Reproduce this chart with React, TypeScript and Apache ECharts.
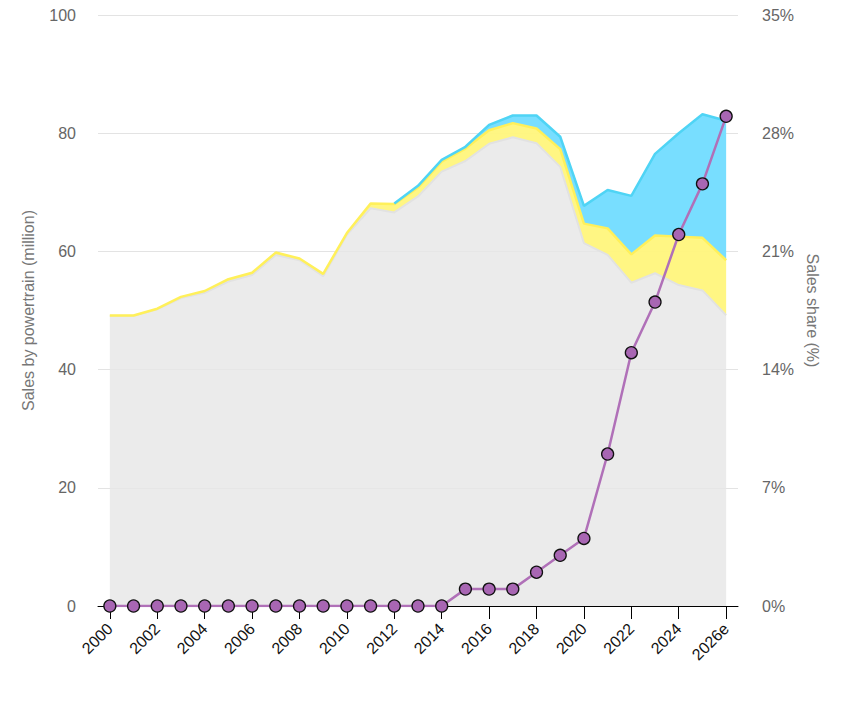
import React, { useEffect, useRef } from "react";
import * as echarts from "echarts";

const years = [
  "2000", "2001", "2002", "2003", "2004", "2005", "2006", "2007", "2008", "2009",
  "2010", "2011", "2012", "2013", "2014", "2015", "2016", "2017", "2018", "2019",
  "2020", "2021", "2022", "2023", "2024", "2025", "2026e",
];

// Sales by powertrain (million)
const iceSales = [
  49.1, 49.1, 50.2, 52.1, 53.0, 54.9, 56.0, 59.4, 58.5, 55.8,
  62.8, 67.3, 66.6, 69.3, 73.5, 75.3, 78.2, 79.3, 78.3, 74.3,
  61.4, 59.4, 54.7, 56.3, 54.3, 53.4, 49.2,
];
const hybridSales = [
  0.05, 0.05, 0.1, 0.2, 0.3, 0.4, 0.4, 0.4, 0.3, 0.4,
  0.3, 0.8, 1.4, 1.5, 1.7, 2.1, 2.3, 2.4, 2.5, 3.0,
  3.3, 4.5, 4.8, 6.4, 8.2, 8.9, 9.3,
];
// "-" = no EV sales recorded yet
const evSales: (number | string)[] = [
  "-", "-", "-", "-", "-", "-", "-", "-", "-", "-",
  "-", "-", 0.1, 0.3, 0.3, 0.3, 0.9, 1.3, 2.2, 2.1,
  3.0, 6.5, 9.9, 13.8, 17.5, 20.9, 23.6,
];
// EV sales share (%)
const evShare = [
  0, 0, 0, 0, 0, 0, 0, 0, 0, 0,
  0, 0, 0, 0, 0, 1, 1, 1, 2, 3,
  4, 9, 15, 18, 22, 25, 29,
];

const leftTicks = { min: 0, max: 100, interval: 20 };
const rightTicks = { min: 0, max: 35, interval: 7 };

const FONT = "Liberation Sans, Arial, Helvetica, sans-serif";

export default function App() {
  const ref = useRef<HTMLDivElement>(null);

  useEffect(() => {
    if (!ref.current) return;
    const chart = echarts.init(ref.current, undefined, { renderer: "svg" });
    chart.setOption({
      animation: false,
      textStyle: { fontFamily: FONT },
      grid: { left: 98, right: 112, top: 15, bottom: 102, containLabel: false },
      xAxis: {
        type: "category",
        data: years,
        boundaryGap: true,
        axisLine: { show: true, lineStyle: { color: "#000", width: 1 } },
        axisTick: {
          show: true,
          alignWithLabel: true,
          interval: 1,
          length: 13,
          lineStyle: { color: "#000" },
        },
        axisLabel: {
          interval: 1,
          rotate: 45,
          margin: 20,
          color: "#111",
          fontSize: 16,
          fontFamily: FONT,
        },
        splitLine: { show: false },
      },
      yAxis: [
        {
          type: "value",
          ...leftTicks,
          name: "Sales by powertrain (million)",
          nameLocation: "middle",
          nameGap: 62,
          nameTextStyle: { color: "#777", fontSize: 16, fontFamily: FONT },
          axisLine: { show: false },
          axisTick: { show: false },
          axisLabel: { color: "#666", fontSize: 16, margin: 22, fontFamily: FONT },
          splitLine: { show: true, lineStyle: { color: "#e3e3e3", width: 1 } },
        },
        {
          type: "value",
          ...rightTicks,
          position: "right",
          name: "Sales share (%)",
          nameLocation: "middle",
          nameGap: 62,
          nameRotate: -90,
          nameTextStyle: { color: "#777", fontSize: 16, fontFamily: FONT },
          axisLine: { show: false },
          axisTick: { show: false },
          axisLabel: {
            color: "#666",
            fontSize: 16,
            margin: 24,
            fontFamily: FONT,
            formatter: "{value}%",
          },
          splitLine: { show: false },
        },
      ],
      series: [
        {
          name: "ICE",
          type: "line",
          stack: "sales",
          data: iceSales,
          symbol: "none",
          lineStyle: { color: "#e2e2e2", width: 2 },
          areaStyle: { color: "#e6e6e6", opacity: 0.82 },
          z: 2,
        },
        {
          name: "Hybrid",
          type: "line",
          stack: "sales",
          data: hybridSales,
          symbol: "none",
          lineStyle: { color: "#fff05a", width: 2.5 },
          areaStyle: { color: "#fff57c", opacity: 0.95 },
          z: 2,
        },
        {
          name: "EV",
          type: "line",
          stack: "sales",
          data: evSales,
          symbol: "none",
          lineStyle: { color: "#4fd4f5", width: 2.5 },
          areaStyle: { color: "#78deff", opacity: 1 },
          z: 2,
        },
        {
          name: "EV sales share",
          type: "line",
          yAxisIndex: 1,
          data: evShare,
          symbol: "circle",
          symbolSize: 12,
          lineStyle: { color: "#b070b8", width: 2.5 },
          itemStyle: { color: "#a866b3", borderColor: "#111", borderWidth: 1.3 },
          z: 5,
        },
      ],
    });
    return () => chart.dispose();
  }, []);

  return (
    <div
      ref={ref}
      style={{ position: "absolute", left: 0, top: 0, width: 850, height: 708 }}
    />
  );
}
